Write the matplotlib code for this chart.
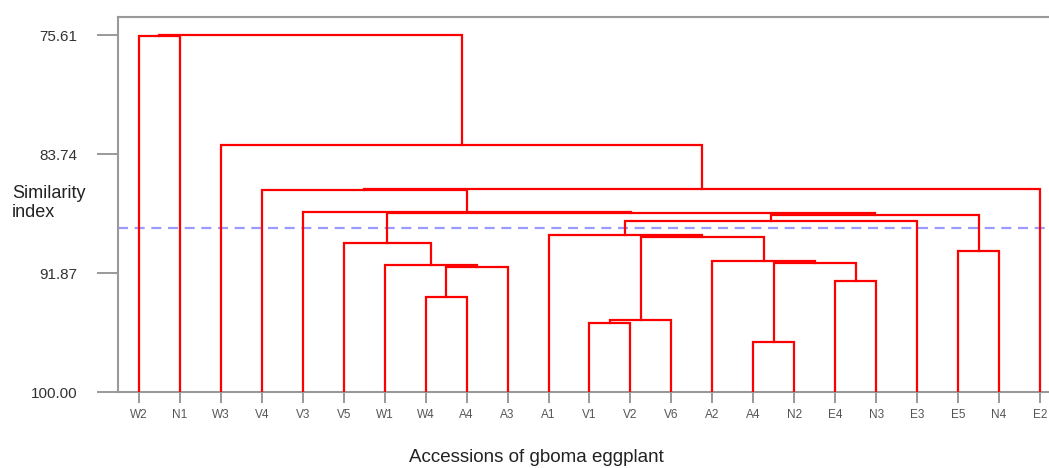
import matplotlib
matplotlib.use("Agg")
from matplotlib import pyplot as plt

plt.rcParams['font.family'] = ['Liberation Sans', 'DejaVu Sans']

# leaf labels in drawing order
leaves = ['W2', 'N1', 'W3', 'V4', 'V3', 'V5', 'W1', 'W4', 'A4', 'A3', 'A1',
          'V1', 'V2', 'V6', 'A2', 'A4', 'N2', 'E4', 'N3', 'E3', 'E5', 'N4', 'E2']

# merges: ids 0..22 are leaves, merge k gets id 23 + k
merge_left = [7, 23, 6, 5, 11, 27, 15, 17, 29, 14, 28, 10, 34, 20, 35, 26, 4, 3, 40, 2, 0, 43]
merge_right = [8, 9, 24, 25, 12, 13, 16, 18, 30, 31, 32, 33, 19, 21, 36, 37, 38, 39, 22, 41, 1, 42]
merge_sim = [93.53, 91.48, 91.32, 89.80, 95.29, 95.08, 96.58, 92.42, 91.19, 91.05,
             89.41, 89.27, 88.35, 90.37, 87.91, 87.77, 87.70, 86.17, 86.10, 83.13,
             75.68, 75.61]

cut_level = 88.82
yticks = [75.61, 83.74, 91.87, 100.00]

fig = plt.figure(figsize=(10.49, 4.68), dpi=100)
ax = fig.add_axes([118 / 1049, 76 / 468, 931 / 1049, 375 / 468])

xpos = {i: float(i) for i in range(len(leaves))}
hgt = {i: 100.0 for i in range(len(leaves))}
for k, (a, b, s) in enumerate(zip(merge_left, merge_right, merge_sim)):
    nid = len(leaves) + k
    xa, xb = xpos[a], xpos[b]
    ax.plot([xa, xa, xb, xb], [hgt[a], s, s, hgt[b]], color='#ff0000', lw=1.6,
            solid_joinstyle='miter', zorder=3)
    xpos[nid] = (xa + xb) / 2
    hgt[nid] = s

ax.axhline(cut_level, color='#9a9aff', lw=1.6, ls=(0, (4.5, 3)), zorder=2)

ax.set_xlim(-0.513, 22.22)
ax.set_ylim(100, 74.38)

ax.set_yticks(yticks)
ax.set_yticklabels(['%.2f' % v for v in yticks])
ax.set_xticks(range(len(leaves)))
ax.set_xticklabels(leaves)

ax.tick_params(axis='y', length=15, width=1.2, color='#888888', pad=14,
               labelsize=11, labelcolor='#333333')
ax.tick_params(axis='x', length=8, width=1.2, color='#888888', pad=4,
               labelsize=8.5, labelcolor='#555555')

for side in ['left', 'top', 'bottom']:
    ax.spines[side].set_color('#999999')
    ax.spines[side].set_linewidth(1.5)
ax.spines['right'].set_visible(False)

fig.text(12 / 1049, 1 - 203 / 468, 'Similarity\nindex', ha='left', va='center',
         fontsize=13, color='#222222')
fig.text(536 / 1049, 1 - 457 / 468, 'Accessions of gboma eggplant', ha='center',
         va='center', fontsize=13.5, color='#222222')

fig.savefig('out.png', dpi=100)
